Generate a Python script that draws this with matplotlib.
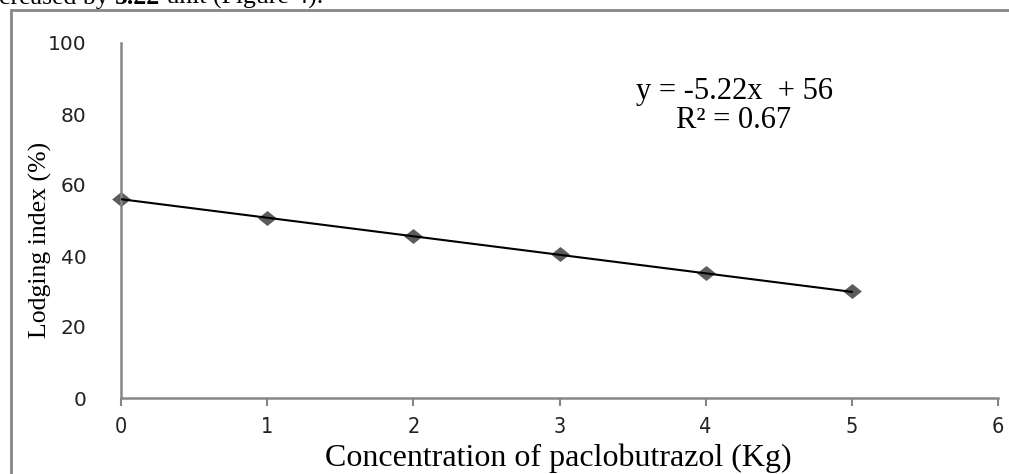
import numpy as np
import matplotlib
matplotlib.use("Agg")
import matplotlib.pyplot as plt
from matplotlib.patches import Rectangle
from matplotlib.path import Path

# Data
concentration = [0, 1, 2, 3, 4, 5]
lodging_index = [56.0, 50.7, 45.6, 40.6, 35.2, 30.1]
slope = -5.22
intercept = 56
r_squared = 0.67
x_ticks = [0, 1, 2, 3, 4, 5, 6]
y_ticks = [0, 20, 40, 60, 80, 100]

W, H = 1009, 474
fig = plt.figure(figsize=(W / 100, H / 100), dpi=100)
fig.patch.set_facecolor("white")

ax = fig.add_axes([121 / W, (H - 398) / H, (998 - 121) / W, (398 - 43) / H])

gray = "#868686"
diamond = Path([(-1, 0), (0, 0.8), (1, 0), (0, -0.8), (-1, 0)],
               [Path.MOVETO, Path.LINETO, Path.LINETO, Path.LINETO, Path.CLOSEPOLY])

xs = np.array([concentration[0], concentration[-1]], dtype=float)
ax.plot(xs, slope * xs + intercept, color="black", lw=1.5, zorder=3)
ax.plot(concentration, lodging_index, linestyle="none", marker=diamond,
        markersize=13.5, color="#5c5c5c", markeredgewidth=0, zorder=2, clip_on=False)

ax.set_xlim(0, 6)
ax.set_ylim(0, 100)
ax.set_xticks(x_ticks)
ax.set_yticks(y_ticks)
ax.set_xticklabels([str(v) for v in x_ticks])
ax.set_yticklabels([str(v) for v in y_ticks])

for s in ["top", "right"]:
    ax.spines[s].set_visible(False)
for s in ["left", "bottom"]:
    ax.spines[s].set_color(gray)
    ax.spines[s].set_linewidth(1.8)

ax.tick_params(axis="y", length=0, pad=25, labelsize=14.5, labelcolor="#222222")
ax.tick_params(axis="x", length=6, width=1.5, color=gray, direction="out",
               pad=8, labelsize=15.5, labelcolor="#222222")
for lab in ax.get_yticklabels():
    lab.set_family("DejaVu Sans")
for lab in ax.get_xticklabels():
    lab.set_family("DejaVu Sans")
    lab.set_fontstretch("condensed")

serif = ["Liberation Serif", "DejaVu Serif"]
fig.text(40 / W, 1 - 240 / H, "Lodging index (%)", rotation=90, ha="center",
         va="center", fontsize=18.5, family=serif)
fig.text(558 / W, 1 - 458 / H, "Concentration of paclobutrazol (Kg)", ha="center",
         va="center", fontsize=23, family=serif)

ax.text(734 / W, 1 - 92 / H, f"y = {slope:.2f}x  + {intercept}", transform=fig.transFigure,
        ha="center", va="center", fontsize=22, family=serif)
ax.text(734 / W, 1 - 121 / H, f"R² = {r_squared:.2f}", transform=fig.transFigure,
        ha="center", va="center", fontsize=22, family=serif)

# Figure border (extends beyond right and bottom edges)
fig.patches.append(Rectangle((11 / W, -0.1), 1.2, (H - 10) / H + 0.1,
                             transform=fig.transFigure, fill=False,
                             edgecolor=gray, linewidth=2.0, clip_on=False))

# Partial caption text at the top (cut off)
renderer = fig.canvas.get_renderer()
x0 = -1 / W
yb = 1 - 4 / H
parts = [("creased by ", "normal"), ("5.22", "bold"), (" unit (Figure 4).", "normal")]
for txt, wt in parts:
    t = fig.text(x0, yb, txt, ha="left", va="baseline", fontsize=18.5,
                 family=serif, weight=wt)
    bb = t.get_window_extent(renderer=renderer)
    x0 += bb.width / W

fig.savefig("out.png", dpi=100, facecolor="white")
